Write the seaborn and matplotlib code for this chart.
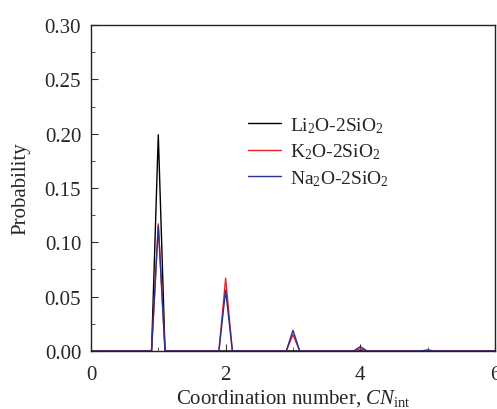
import numpy as np
import pandas as pd
import matplotlib
matplotlib.use("Agg")
import matplotlib.pyplot as plt
from matplotlib.ticker import MultipleLocator, FormatStrFormatter
import seaborn as sns

# --- data ---
cn_values = [1, 2, 3, 4, 5]
li2o = [0.199, 0.0, 0.0, 0.0, 0.0]
k2o = [0.117, 0.067, 0.015, 0.002, 0.0]
na2o = [0.115, 0.056, 0.019, 0.004, 0.001]
half_width = 0.1

series = {
    "Li$_2$O-2SiO$_2$": li2o,
    "K$_2$O-2SiO$_2$": k2o,
    "Na$_2$O-2SiO$_2$": na2o,
}
colors = ["#000000", "#e8202a", "#2b2f8f"]

# each CN bin drawn as a narrow triangle peak
rows = []
for name, vals in series.items():
    rows.append((name, 0.0, 0.0))
    for c, v in zip(cn_values, vals):
        rows.append((name, c - half_width, 0.0))
        rows.append((name, c, v))
        rows.append((name, c + half_width, 0.0))
    rows.append((name, 6.0, 0.0))
df = pd.DataFrame(rows, columns=["system", "cn", "prob"])

sns.set_style("ticks")
plt.rcParams["font.family"] = ["Liberation Serif", "DejaVu Serif"]
plt.rcParams["mathtext.fontset"] = "custom"
plt.rcParams["mathtext.rm"] = "Liberation Serif"
plt.rcParams["mathtext.it"] = "Liberation Serif:italic"

fig = plt.figure(figsize=(4.97, 4.10), dpi=100)
ax = fig.add_axes([0.183, 0.1415, 0.813, 0.795])

sns.lineplot(data=df, x="cn", y="prob", hue="system", palette=colors,
             sort=False, estimator=None, linewidth=1.0, ax=ax)

ax.set_xlim(0, 6)
ax.set_ylim(0, 0.30)
ax.xaxis.set_major_locator(MultipleLocator(2))
ax.xaxis.set_minor_locator(MultipleLocator(1))
ax.yaxis.set_major_locator(MultipleLocator(0.05))
ax.yaxis.set_minor_locator(MultipleLocator(0.025))
ax.yaxis.set_major_formatter(FormatStrFormatter("%.2f"))
ax.tick_params(which="both", direction="in", labelsize=15, color="#333333")
ax.tick_params(which="major", length=5)
ax.tick_params(which="minor", length=3)
ax.tick_params(axis="x", which="major", pad=10)
ax.tick_params(axis="y", which="major", pad=7)
for s in ax.spines.values():
    s.set_linewidth(1.0)
    s.set_color("#222222")

ax.set_xlabel("Coordination number, $CN_{\\rm int}$", fontsize=15, labelpad=2)
ax.set_ylabel("Probability", fontsize=15, labelpad=10)

leg = ax.legend(loc="upper left", bbox_to_anchor=(0.37, 0.748), frameon=False,
                fontsize=14, handlelength=1.7, handletextpad=0.45,
                labelspacing=0.35, borderaxespad=0)

fig.savefig("out.png", dpi=100)
